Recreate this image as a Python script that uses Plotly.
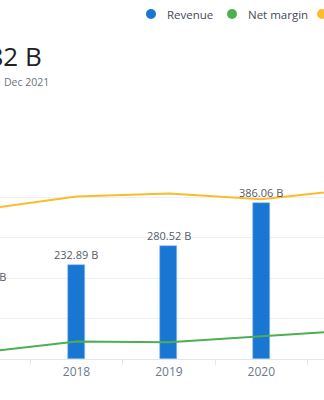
import plotly.graph_objects as go

# Annual figures
years = [2017, 2018, 2019, 2020, 2021]
revenue_b = [177.87, 232.89, 280.52, 386.06, 469.82]
net_margin = [1.71, 4.33, 4.13, 5.53, 7.10]
gross_margin = [37.07, 40.25, 40.99, 39.57, 42.03]
tick_labels = [str(y) for y in years]

BLUE = "#1976d2"
GREEN = "#4caf50"
ORANGE = "#fbbc2c"
FONT = "Open Sans"

W, H = 324, 400
M_T, M_B = 157, 41
PLOT_H = H - M_T - M_B
X_RANGE = [2017.172, 2020.679]


def px_x(x):
    return x / W


def px_y(y):
    return (H - M_B - y) / PLOT_H


def year_frac(year):
    # horizontal position of a year as a fraction of the plot width
    return (year - X_RANGE[0]) / (X_RANGE[1] - X_RANGE[0])


fig = go.Figure()

fig.add_trace(go.Bar(
    x=years, y=revenue_b, width=0.184,
    marker=dict(color=BLUE, line=dict(color="#8fbef0", width=0.6)),
    name="Revenue", showlegend=False,
))

fig.add_trace(go.Scatter(
    x=years, y=gross_margin, yaxis="y2", mode="lines",
    line=dict(color=ORANGE, width=2), name="Gross margin", showlegend=False,
))
fig.add_trace(go.Scatter(
    x=years, y=net_margin, yaxis="y2", mode="lines",
    line=dict(color=GREEN, width=2), name="Net margin", showlegend=False,
))

shapes = []
annotations = []

# Value labels above each bar (kept even where the bar runs past the edge)
for yr, v in zip(years, revenue_b):
    annotations.append(dict(
        text=f"{v:.2f} B", xref="paper", yref="y",
        x=year_frac(yr), y=v, xanchor="center", yanchor="bottom",
        yshift=1, showarrow=False,
        font=dict(family=FONT, size=11, color="#555b66"),
    ))

# Legend row: dots and labels
legend_items = [("Revenue", BLUE, 151), ("Net margin", GREEN, 232), ("Gross margin", ORANGE, 322)]
for label, color, cx in legend_items:
    shapes.append(dict(
        type="circle", xref="paper", yref="paper",
        xsizemode="pixel", ysizemode="pixel",
        xanchor=px_x(cx), yanchor=px_y(14),
        x0=-5, x1=5, y0=-5, y1=5,
        fillcolor=color, line=dict(width=0),
    ))
    annotations.append(dict(
        text=label, xref="paper", yref="paper",
        x=px_x(cx + 14), y=px_y(14), xanchor="left", yanchor="middle",
        showarrow=False, font=dict(family=FONT, size=11.5, color="#444a55"),
    ))

# Headline value and period
annotations.append(dict(
    text=f"{revenue_b[-1]:.2f} B", xref="paper", yref="paper",
    x=px_x(44), y=px_y(56), xanchor="right", yanchor="middle",
    showarrow=False, font=dict(family=FONT, size=26, color="#222222"),
))
annotations.append(dict(
    text="Dec 2021", xref="paper", yref="paper",
    x=px_x(2), y=px_y(82), xanchor="left", yanchor="middle",
    showarrow=False, font=dict(family=FONT, size=10.5, color="#6b7280"),
))

fig.update_layout(
    width=W, height=H,
    margin=dict(l=0, r=0, t=M_T, b=M_B, pad=0),
    paper_bgcolor="white", plot_bgcolor="white",
    showlegend=False,
    bargap=0,
    shapes=shapes, annotations=annotations,
    xaxis=dict(
        range=X_RANGE,
        tickvals=years, ticktext=tick_labels, ticks="",
        tickfont=dict(family=FONT, size=12, color="#6b7890"),
        ticklabelstandoff=2,
        showgrid=False, zeroline=False,
        showline=True, linecolor="#e3e6ec", linewidth=1,
        minor=dict(tick0=2017.5, dtick=1, ticks="outside", ticklen=5,
                   tickcolor="#e3e6ec", tickwidth=1, showgrid=False),
    ),
    yaxis=dict(
        range=[0, 500], dtick=100, showticklabels=False,
        showgrid=True, gridcolor="#eef0f4", gridwidth=1,
        zeroline=False, showline=False, fixedrange=True,
    ),
    yaxis2=dict(
        range=[0, 50], overlaying="y", side="right",
        showticklabels=False, showgrid=False, zeroline=False,
    ),
)

fig.write_html("out.html")
